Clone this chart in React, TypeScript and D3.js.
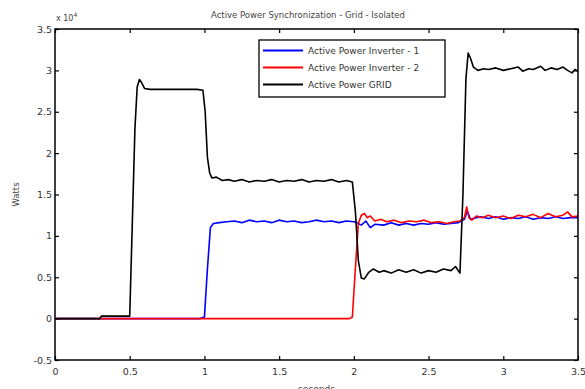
import { scaleLinear, select, line, axisBottom, axisLeft, axisTop, axisRight } from "d3";
import { useEffect, useRef } from "react";

// values in units of 10^4 W, time in seconds
const gridData: [number, number][] = [
  [0, 0], [0.3, 0], [0.31, 0.03], [0.5, 0.03], [0.515, 1.0], [0.535, 2.3], [0.55, 2.8], [0.565, 2.89],
  [0.58, 2.85], [0.6, 2.78], [0.635, 2.77], [0.75, 2.77], [0.85, 2.77], [0.95, 2.77], [0.99, 2.76],
  [1.005, 2.5], [1.02, 1.95], [1.035, 1.76], [1.05, 1.7], [1.08, 1.71], [1.12, 1.67], [1.16, 1.68],
  [1.2, 1.66], [1.25, 1.68], [1.3, 1.65], [1.35, 1.67], [1.4, 1.66], [1.45, 1.68], [1.5, 1.65],
  [1.55, 1.67], [1.6, 1.66], [1.65, 1.68], [1.7, 1.65], [1.75, 1.67], [1.8, 1.66], [1.85, 1.68],
  [1.9, 1.65], [1.95, 1.67], [1.99, 1.65], [2.01, 1.3], [2.03, 0.7], [2.05, 0.49], [2.07, 0.48],
  [2.1, 0.56], [2.13, 0.6], [2.17, 0.56], [2.2, 0.58], [2.25, 0.55], [2.3, 0.59], [2.35, 0.56],
  [2.4, 0.59], [2.45, 0.55], [2.5, 0.58], [2.55, 0.56], [2.6, 0.6], [2.65, 0.58], [2.68, 0.63],
  [2.71, 0.55], [2.73, 1.5], [2.75, 2.9], [2.765, 3.21], [2.78, 3.15], [2.8, 3.04], [2.83, 3.0],
  [2.87, 3.02], [2.9, 3.01], [2.95, 3.03], [3.0, 3.0], [3.05, 3.02], [3.1, 3.04], [3.13, 2.99],
  [3.17, 3.02], [3.2, 3.01], [3.25, 3.05], [3.28, 3.0], [3.32, 3.03], [3.36, 3.01], [3.4, 3.04],
  [3.43, 3.0], [3.46, 2.97], [3.48, 3.01], [3.5, 2.99],
];

const inv1Data: [number, number][] = [
  [0, 0], [0.97, 0], [1.0, 0.02], [1.02, 0.6], [1.04, 1.1], [1.06, 1.15], [1.1, 1.16], [1.15, 1.17],
  [1.2, 1.18], [1.25, 1.16], [1.3, 1.19], [1.35, 1.17], [1.4, 1.18], [1.45, 1.16], [1.5, 1.19],
  [1.55, 1.17], [1.6, 1.18], [1.65, 1.16], [1.7, 1.17], [1.75, 1.19], [1.8, 1.17], [1.85, 1.18],
  [1.9, 1.16], [1.95, 1.18], [2.0, 1.17], [2.02, 1.16], [2.05, 1.13], [2.08, 1.18], [2.11, 1.1],
  [2.14, 1.14], [2.2, 1.13], [2.25, 1.16], [2.3, 1.13], [2.35, 1.15], [2.4, 1.13], [2.45, 1.15],
  [2.5, 1.14], [2.55, 1.16], [2.6, 1.14], [2.65, 1.15], [2.7, 1.16], [2.74, 1.2], [2.76, 1.3],
  [2.78, 1.2], [2.8, 1.21], [2.85, 1.23], [2.9, 1.21], [2.95, 1.23], [3.0, 1.2], [3.05, 1.22],
  [3.1, 1.21], [3.15, 1.23], [3.2, 1.2], [3.25, 1.22], [3.3, 1.21], [3.35, 1.23], [3.4, 1.21],
  [3.45, 1.22], [3.5, 1.22],
];

const inv2Data: [number, number][] = [
  [0, 0], [1.97, 0], [1.99, 0.02], [2.01, 0.6], [2.03, 1.15], [2.05, 1.25], [2.07, 1.27], [2.09, 1.22],
  [2.11, 1.24], [2.14, 1.18], [2.18, 1.2], [2.22, 1.17], [2.27, 1.19], [2.32, 1.16], [2.37, 1.18],
  [2.42, 1.17], [2.47, 1.19], [2.52, 1.16], [2.57, 1.17], [2.62, 1.15], [2.67, 1.17], [2.71, 1.18],
  [2.74, 1.22], [2.755, 1.35], [2.77, 1.22], [2.79, 1.19], [2.82, 1.24], [2.86, 1.22], [2.9, 1.25],
  [2.95, 1.22], [3.0, 1.24], [3.05, 1.21], [3.1, 1.25], [3.15, 1.23], [3.2, 1.26], [3.25, 1.22],
  [3.3, 1.27], [3.35, 1.23], [3.4, 1.25], [3.43, 1.29], [3.46, 1.23], [3.5, 1.24],
];

const xTicks = [0, 0.5, 1, 1.5, 2, 2.5, 3, 3.5];
const yTicks = [-0.5, 0, 0.5, 1, 1.5, 2, 2.5, 3, 3.5];

const series = [
  { name: "Active Power Inverter - 1", data: inv1Data, color: "#0000ff" },
  { name: "Active Power Inverter - 2", data: inv2Data, color: "#ff0000" },
  { name: "Active Power GRID", data: gridData, color: "#000000" },
];

const width = 585;
const height = 389;
const margin = { top: 29, left: 55, right: 7, bottom: 29 };

export default function App() {
  const ref = useRef<SVGSVGElement>(null);

  useEffect(() => {
    const node = select(ref.current);
    node.selectAll("*").remove();

    const x = scaleLinear().domain([0, 3.5]).range([margin.left, width - margin.right]);
    const y = scaleLinear().domain([-0.5, 3.5]).range([height - margin.bottom, margin.top]);
    const font = "DejaVu Sans, Verdana, sans-serif";

    const styleAxis = (g: any, labels: boolean) => {
      g.select(".domain").remove();
      g.selectAll("line").attr("stroke", "#000").attr("stroke-width", 1.2);
      if (!labels) g.selectAll("text").remove();
      g.selectAll("text")
        .style("font-family", font)
        .style("font-size", "9.5px")
        .attr("fill", "#333");
    };

    node.append("g")
      .attr("transform", `translate(0,${y(-0.5)})`)
      .call(axisBottom(x).tickValues(xTicks).tickFormat((d: any) => String(d)).tickSize(-4).tickPadding(8))
      .call((g: any) => styleAxis(g, true));
    node.append("g")
      .attr("transform", `translate(0,${y(3.5)})`)
      .call(axisTop(x).tickValues(xTicks).tickSize(-4))
      .call((g: any) => styleAxis(g, false));
    node.append("g")
      .attr("transform", `translate(${x(0)},0)`)
      .call(axisLeft(y).tickValues(yTicks).tickFormat((d: any) => String(d)).tickSize(-4).tickPadding(3))
      .call((g: any) => styleAxis(g, true));
    node.append("g")
      .attr("transform", `translate(${x(3.5)},0)`)
      .call(axisRight(y).tickValues(yTicks).tickSize(-4))
      .call((g: any) => styleAxis(g, false));

    const path = line<[number, number]>().x((d) => x(d[0])).y((d) => y(d[1]));
    series.forEach((s) => {
      node.append("path")
        .attr("d", path(s.data))
        .attr("fill", "none")
        .attr("stroke", s.color)
        .attr("stroke-width", 1.6)
        .attr("stroke-linejoin", "round");
    });

    // frame
    node.append("rect")
      .attr("x", x(0)).attr("y", y(3.5))
      .attr("width", x(3.5) - x(0)).attr("height", y(-0.5) - y(3.5))
      .attr("fill", "none").attr("stroke", "#000").attr("stroke-width", 1.5);

    // legend
    const lg = node.append("g").attr("transform", "translate(259,40)");
    lg.append("rect").attr("width", 186).attr("height", 57)
      .attr("fill", "#fff").attr("stroke", "#000").attr("stroke-width", 1.3);
    series.forEach((s, i) => {
      const cy = 10.5 + i * 17;
      lg.append("line").attr("x1", 4).attr("x2", 44).attr("y1", cy).attr("y2", cy)
        .attr("stroke", s.color).attr("stroke-width", 1.8);
      lg.append("text").attr("x", 49).attr("y", cy + 3.5).text(s.name)
        .style("font-family", font).style("font-size", "9px").attr("fill", "#333");
    });

    node.append("text").attr("x", 308).attr("y", 18)
      .attr("text-anchor", "middle").text("Active Power Synchronization -  Grid - Isolated")
      .style("font-family", font).style("font-size", "8.5px").attr("fill", "#444");

    const exp = node.append("text").attr("x", 56).attr("y", 21)
      .style("font-family", font).style("font-size", "8px").attr("fill", "#444");
    exp.append("tspan").text("x 10");
    exp.append("tspan").attr("dy", -4).style("font-size", "6px").text("4");

    node.append("text")
      .attr("transform", `translate(19,${y(1.5)}) rotate(-90)`)
      .attr("text-anchor", "middle").text("Watts")
      .style("font-family", font).style("font-size", "8.5px").attr("fill", "#444");

    node.append("text").attr("x", x(1.75)).attr("y", 392)
      .attr("text-anchor", "middle").text("seconds")
      .style("font-family", font).style("font-size", "9px").attr("fill", "#444");
  }, []);

  return (
    <svg
      ref={ref}
      width={width}
      height={height}
      style={{ position: "absolute", left: 0, top: 0, background: "#fff" }}
    />
  );
}
